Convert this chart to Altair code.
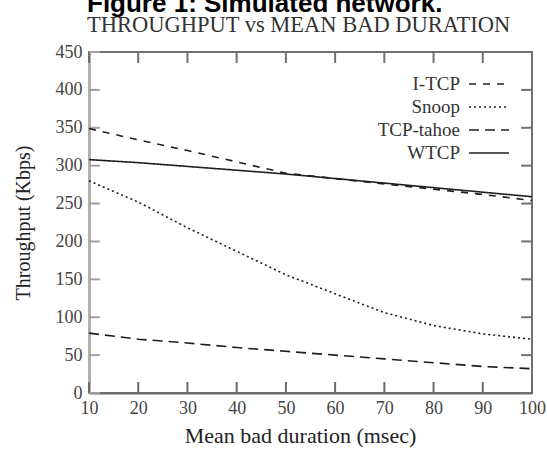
import altair as alt
import pandas as pd

# ---- data ----
duration = [10, 20, 30, 40, 50, 60, 70, 80, 90, 100]
itcp = [349, 334, 320, 305, 290, 283, 276, 269, 262, 254]
snoop = [280, 252, 218, 187, 156, 131, 106, 89, 78, 71]
tahoe = [79, 71, 66, 60, 55, 50, 45, 40, 35, 32]
wtcp = [308, 304, 299, 294, 289, 283, 277, 271, 265, 259]
series_names = ["I-TCP", "Snoop", "TCP-tahoe", "WTCP"]
dash_patterns = [[7, 7], [2, 3], [10, 6], [1, 0]]

x_tick_values = [10, 20, 30, 40, 50, 60, 70, 80, 90, 100]
y_tick_values = [0, 50, 100, 150, 200, 250, 300, 350, 400, 450]
x_domain = [10, 100]
y_domain = [0, 450]

rows = []
for name, vals in zip(series_names, [itcp, snoop, tahoe, wtcp]):
    for d, v in zip(duration, vals):
        rows.append({"duration": d, "throughput": v, "protocol": name})
df = pd.DataFrame(rows)

# inward tick marks (mirror ticks on all four sides), in data units
tick_y_len = 14.5   # ~11 px
tick_x_len = 2.2    # ~11 px
bottom_ticks = pd.DataFrame({"duration": x_tick_values, "throughput": [y_domain[0]] * 10,
                             "t2": [y_domain[0] + tick_y_len] * 10})
top_ticks = pd.DataFrame({"duration": x_tick_values, "throughput": [y_domain[1]] * 10,
                          "t2": [y_domain[1] - tick_y_len] * 10})
left_ticks = pd.DataFrame({"throughput": y_tick_values, "duration": [x_domain[0]] * 10,
                           "d2": [x_domain[0] + tick_x_len] * 10})
right_ticks = pd.DataFrame({"throughput": y_tick_values, "duration": [x_domain[1]] * 10,
                            "d2": [x_domain[1] - tick_x_len] * 10})

serif = "Liberation Serif"

xscale = alt.Scale(domain=x_domain, nice=False, zero=False)
yscale = alt.Scale(domain=y_domain, nice=False)

x_axis = alt.Axis(values=x_tick_values, ticks=False, grid=False, labelFont=serif, labelFontSize=18,
                  labelColor="#444", labelPadding=6, domainColor="#6a6a6a", domainWidth=2,
                  titleFont=serif, titleFontSize=22, titleFontWeight="normal", titleColor="#222",
                  titlePadding=8, titleX=211, labelFlush=False)
y_axis = alt.Axis(values=y_tick_values, ticks=False, grid=False, labelFont=serif, labelFontSize=18,
                  labelColor="#444", labelPadding=7, domainColor="#b0b0b0", domainWidth=3,
                  titleFont=serif, titleFontSize=20, titleFontWeight="normal", titleColor="#222",
                  titlePadding=22)

X = alt.X("duration:Q", scale=xscale, axis=x_axis, title="Mean bad duration (msec)")
Y = alt.Y("throughput:Q", scale=yscale, axis=y_axis, title="Throughput (Kbps)")

lines = alt.Chart(df).mark_line(color="#1e1e1e", strokeWidth=1.6).encode(
    x=X,
    y=Y,
    strokeDash=alt.StrokeDash(
        "protocol:N",
        scale=alt.Scale(domain=series_names, range=dash_patterns),
        legend=alt.Legend(
            orient="none", legendX=389, legendY=21, direction="vertical",
            symbolType="M-2,0H2", symbolSize=400, symbolStrokeWidth=1.6,
            symbolStrokeColor="#222", labelAlign="right", labelOffset={"expr": "-40"},
            labelFont=serif, labelFontSize=19, labelColor="#333",
            rowPadding=2, padding=0, title=None,
        ),
    ),
    detail="protocol:N",
)

bt = alt.Chart(bottom_ticks).mark_rule(color="#6a6a6a", strokeWidth=2).encode(x=X, y=Y, y2="t2:Q")
tt = alt.Chart(top_ticks).mark_rule(color="#707070", strokeWidth=2).encode(x=X, y=Y, y2="t2:Q")
lt = alt.Chart(left_ticks).mark_rule(color="#a0a0a0", strokeWidth=2).encode(x=X, x2="d2:Q", y=Y)
rt = alt.Chart(right_ticks).mark_rule(color="#707070", strokeWidth=2).encode(x=X, x2="d2:Q", y=Y)

chart = alt.layer(bt, tt, lt, rt, lines).properties(
    width=443,
    height=341,
    autosize=alt.AutoSizeParams(type="none"),
    padding={"left": 89, "right": 15, "top": 52, "bottom": 57},
    title=alt.Title(
        text="Figure 1: Simulated network.",
        subtitle="THROUGHPUT vs MEAN BAD DURATION",
        anchor="start", frame="group", dx=-2, offset=7,
        font="Liberation Sans", fontSize=26, fontWeight="bold", color="black",
        subtitleFont=serif, subtitleFontSize=22.5, subtitleColor="#333",
        subtitlePadding={"expr": "-3"},
    ),
).configure(
    background="white", font=serif
).configure_view(
    stroke="#707070", strokeWidth=2
).configure_axis(
    labelFont=serif, titleFont=serif
).configure_legend(
    labelFont=serif
).configure_title(
    font="Liberation Sans", subtitleFont=serif
)

chart.save("out.html", embed_options={"renderer": "svg", "actions": False})
